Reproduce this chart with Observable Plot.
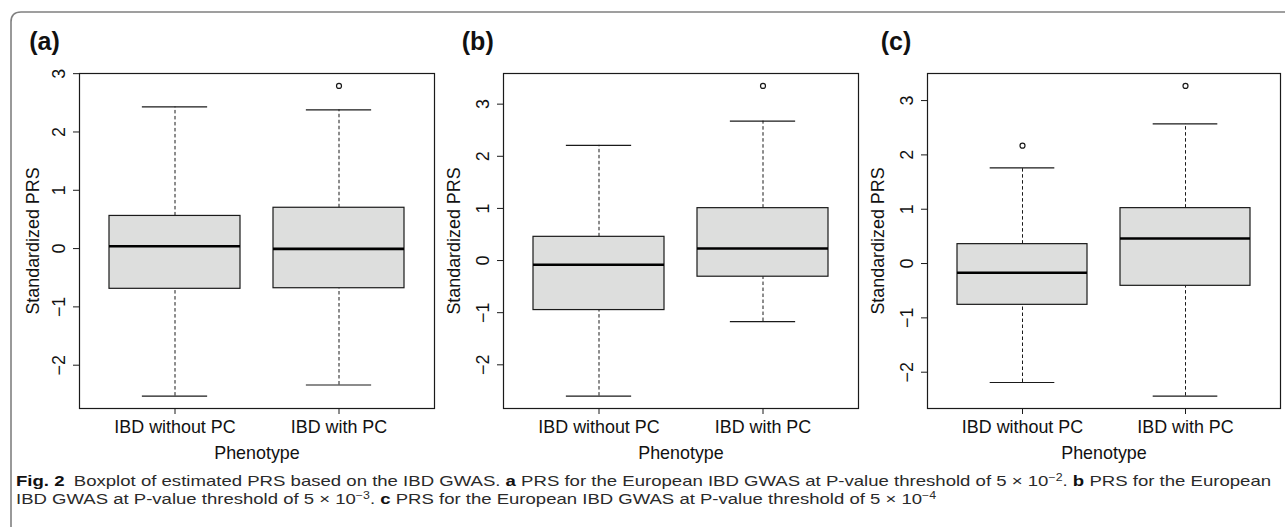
<!DOCTYPE html>
<html><head><meta charset="utf-8">
<script src="https://cdn.jsdelivr.net/npm/d3@7"></script>
<script src="https://cdn.jsdelivr.net/npm/@observablehq/plot@0.6"></script>
<style>
html,body{margin:0;padding:0;background:#fff;}
body{width:1285px;height:527px;position:relative;overflow:hidden;}
.abs{position:absolute;}
</style></head><body>
<svg id="overlay" class="abs" style="left:0;top:0" width="1285" height="527"></svg>
<div id="pa" class="abs" style="left:0;top:60px"></div>
<div id="pb" class="abs" style="left:430px;top:60px"></div>
<div id="pc" class="abs" style="left:855px;top:60px"></div>
<script>
// ---- data ----
const categories = ["IBD without PC", "IBD with PC"];
const yTicks = [-2, -1, 0, 1, 2, 3];
const panelLabels = ["(a)", "(b)", "(c)"];
const xTitle = "Phenotype";
const yTitle = "Standardized PRS";

// panel (a)  P < 5e-2
const aLower  = [-2.53, -2.34];
const aQ1     = [-0.69, -0.68];
const aMedian = [0.04, -0.005];
const aQ3     = [0.56, 0.70];
const aUpper  = [2.43, 2.38];
const aOutCat = ["IBD with PC"];
const aOutVal = [2.79];

// panel (b)  P < 5e-3
const bLower  = [-2.60, -1.17];
const bQ1     = [-0.95, -0.31];
const bMedian = [-0.08, 0.23];
const bQ3     = [0.455, 1.005];
const bUpper  = [2.21, 2.675];
const bOutCat = ["IBD with PC"];
const bOutVal = [3.35];

// panel (c)  P < 5e-4
const cLower  = [-2.19, -2.44];
const cQ1     = [-0.76, -0.41];
const cMedian = [-0.17, 0.46];
const cQ3     = [0.357, 1.02];
const cUpper  = [1.76, 2.57];
const cOutCat = ["IBD without PC", "IBD with PC"];
const cOutVal = [2.17, 3.27];

// caption
const captionLine1 = [
  {t: "Fig. 2", b: true}, {t: "\u2002Boxplot of estimated PRS based on the IBD GWAS. "},
  {t: "a", b: true}, {t: " PRS for the European IBD GWAS at P-value threshold of 5 \u00d7 10"},
  {t: "\u22122", sup: true}, {t: ". "}, {t: "b", b: true}, {t: " PRS for the European"}
];
const captionLine2 = [
  {t: "IBD GWAS at P-value threshold of 5 \u00d7 10"}, {t: "\u22123", sup: true}, {t: ". "},
  {t: "c", b: true}, {t: " PRS for the European IBD GWAS at P-value threshold of 5 \u00d7 10"},
  {t: "\u22124", sup: true}
];

// ---- drawing ----
const fmt = d => (d < 0 ? "\u2212" : "") + Math.abs(d);

function makePanel(el, lower, q1, median, q3, upper, outCat, outVal, geo) {
  const rows = categories.map((c, i) => ({cat: c, lower: lower[i], q1: q1[i], median: median[i], q3: q3[i], upper: upper[i]}));
  const outs = outCat.map((c, i) => ({cat: c, v: outVal[i]}));
  const lo = Math.min(...lower, ...outVal), hi = Math.max(...upper, ...outVal);
  const pad = 0.04 * (hi - lo);
  const yDom = [lo - pad, hi + pad];
  const W = geo.width - geo.ml - geo.mr;
  const bw = W / (categories.length - 0.2 + 2 * 0.18) * 0.8;
  const capInset = bw / 4;
  const ink = "#1a1a1a";
  const fs = 17.9;
  const p = Plot.plot({
    width: geo.width, height: 410,
    marginLeft: geo.ml, marginRight: geo.mr, marginTop: 13, marginBottom: 62,
    style: {fontFamily: "'Liberation Sans', Arial, Helvetica, sans-serif", fontSize: fs + "px", background: "transparent", color: "#111", maxWidth: "none", overflow: "visible"},
    x: {type: "band", domain: categories, paddingInner: 0.2, paddingOuter: 0.18, align: 0.5},
    y: {domain: yDom},
    marks: [
      Plot.ruleX(rows, {x: "cat", y1: "q3", y2: "upper", stroke: ink, strokeWidth: 1, strokeDasharray: "3.5,2.5"}),
      Plot.ruleX(rows, {x: "cat", y1: "lower", y2: "q1", stroke: ink, strokeWidth: 1, strokeDasharray: "3.5,2.5"}),
      Plot.tickY(rows, {x: "cat", y: "upper", insetLeft: capInset, insetRight: capInset, stroke: ink, strokeWidth: 1.2}),
      Plot.tickY(rows, {x: "cat", y: "lower", insetLeft: capInset, insetRight: capInset, stroke: ink, strokeWidth: 1.2}),
      Plot.barY(rows, {x: "cat", y1: "q1", y2: "q3", fill: "#dddedd", stroke: ink, strokeWidth: 1.2}),
      Plot.tickY(rows, {x: "cat", y: "median", stroke: "#000", strokeWidth: 2.6}),
      Plot.dot(outs, {x: "cat", y: "v", r: 2.5, stroke: ink, strokeWidth: 1.2, fill: "white"}),
      Plot.frame({stroke: ink, strokeWidth: 1.2}),
      Plot.axisY(yTicks.filter(t => t >= yDom[0] && t <= yDom[1]), {
        tickSize: 6, tickPadding: 9, tickRotate: -90, textAnchor: "middle", lineAnchor: "bottom",
        tickFormat: fmt, fontSize: fs,
        label: yTitle, labelAnchor: "center", labelOffset: geo.lo, labelArrow: "none", stroke: ink
      }),
      Plot.axisX({tickSize: 6, tickPadding: 6, fontSize: fs, label: xTitle, labelAnchor: "center", labelOffset: 50, labelArrow: "none", stroke: ink})
    ]
  });
  document.getElementById(el).appendChild(p);
}

makePanel("pa", aLower, aQ1, aMedian, aQ3, aUpper, aOutCat, aOutVal, {width: 440, ml: 79, mr: 6, lo: 53});
makePanel("pb", bLower, bQ1, bMedian, bQ3, bUpper, bOutCat, bOutVal, {width: 434, ml: 73, mr: 6, lo: 56});
makePanel("pc", cLower, cQ1, cMedian, cQ3, cUpper, cOutCat, cOutVal, {width: 430, ml: 72, mr: 5, lo: 56});

// overlay: outer frame, panel letters, caption
const ns = "http://www.w3.org/2000/svg";
const ov = document.getElementById("overlay");
const frame = document.createElementNS(ns, "path");
frame.setAttribute("d", "M11,540 L11,22 Q11,12 21,12 L1300,12");
frame.setAttribute("fill", "none");
frame.setAttribute("stroke", "#808080");
frame.setAttribute("stroke-width", "1.6");
ov.appendChild(frame);

const letterX = [29.2, 461.8, 880.8];
panelLabels.forEach((s, i) => {
  const t = document.createElementNS(ns, "text");
  t.setAttribute("x", letterX[i]); t.setAttribute("y", 50);
  t.setAttribute("font-family", "'Liberation Sans', Arial, sans-serif");
  t.setAttribute("font-weight", "bold");
  t.setAttribute("font-size", "25");
  t.setAttribute("fill", "#111");
  t.textContent = s;
  ov.appendChild(t);
});

function captionLine(parts, x, y, targetW) {
  const t = document.createElementNS(ns, "text");
  t.setAttribute("x", 0); t.setAttribute("y", 0);
  t.setAttribute("font-family", "'Liberation Sans', Arial, sans-serif");
  t.setAttribute("font-size", "15");
  t.setAttribute("fill", "#2a2a2a");
  let shifted = false;
  for (const p of parts) {
    const s = document.createElementNS(ns, "tspan");
    if (p.b) { s.setAttribute("font-weight", "bold"); s.setAttribute("fill", "#111"); }
    if (p.sup) { s.setAttribute("font-size", "10"); s.setAttribute("dy", "-5"); shifted = true; }
    else if (shifted) { s.setAttribute("dy", "5"); shifted = false; }
    s.textContent = p.t;
    t.appendChild(s);
  }
  ov.appendChild(t);
  const w = t.getBBox().width;
  t.setAttribute("transform", `translate(${x},${y}) scale(${targetW / w},1)`);
}
captionLine(captionLine1, 16, 486, 1256);
captionLine(captionLine2, 16, 503.5, 921);
</script>
</body></html>
